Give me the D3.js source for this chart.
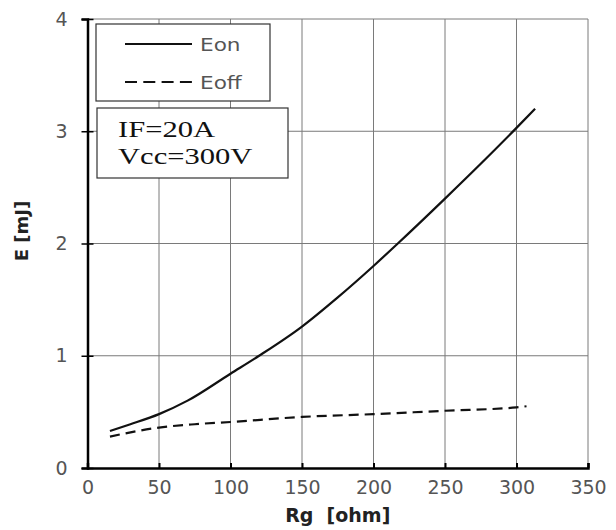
<!DOCTYPE html>
<html>
<head>
<meta charset="utf-8">
<script src="https://cdn.jsdelivr.net/npm/d3@7"></script>
<style>
    body { margin: 0; background: #fff; }
    .tick text { font-family: "DejaVu Sans", sans-serif; font-size: 19px; fill: #555; }
</style>
</head>
<body>
<div id="chart"></div>
<script>
// Rg [ohm] sample points
let rgOn = [15.7, 30, 50, 70, 100, 120, 150, 175, 200, 217, 250, 275, 300, 313];
let eOn = [0.33, 0.39, 0.48, 0.60, 0.84, 1.00, 1.26, 1.52, 1.80, 2.00, 2.40, 2.71, 3.03, 3.20];

let rgOff = [15.7, 50, 75, 100, 150, 200, 250, 300, 307];
let eOff = [0.28, 0.36, 0.39, 0.41, 0.455, 0.48, 0.51, 0.54, 0.55];

let xTicks = [0, 50, 100, 150, 200, 250, 300, 350];
let yTicks = [0, 1, 2, 3, 4];

let legendNames = ["Eon", "Eoff"];
let conditionText = ["IF=20A", "Vcc=300V"];

let margin = { top: 19, right: 28, bottom: 62, left: 87.5 };
let width = 616 - margin.left - margin.right,
    height = 530 - margin.top - margin.bottom;

let svg = d3.select("#chart").append("svg")
    .attr("width", 616)
    .attr("height", 530)
    .append("g")
    .attr("transform", "translate(" + margin.left + "," + margin.top + ")");

let x = d3.scaleLinear().domain([0, 350]).range([0, width]);
let y = d3.scaleLinear().domain([0, 4]).range([height, 0]);

// grid
svg.append("g").selectAll("line")
    .data(xTicks.slice(1))
    .enter().append("line")
    .attr("x1", x).attr("x2", x)
    .attr("y1", 0).attr("y2", height)
    .attr("stroke", "#7a7a7a").attr("stroke-width", 1);

svg.append("g").selectAll("line")
    .data(yTicks.slice(1))
    .enter().append("line")
    .attr("x1", 0).attr("x2", width)
    .attr("y1", y).attr("y2", y)
    .attr("stroke", "#7a7a7a").attr("stroke-width", 1);

// axes
let xAxis = svg.append("g")
    .attr("transform", "translate(0," + height + ")")
    .call(d3.axisBottom(x).tickValues(xTicks).tickFormat(d3.format("d")).tickSize(-5).tickPadding(13));
xAxis.select(".domain").attr("stroke", "#000").attr("stroke-width", 2.5);
xAxis.selectAll(".tick line").attr("stroke", "#000").attr("stroke-width", 2);

let yAxis = svg.append("g")
    .call(d3.axisLeft(y).tickValues(yTicks).tickFormat(d3.format("d")).tickSize(6));
yAxis.select(".domain").attr("stroke", "#000").attr("stroke-width", 2.5);
yAxis.selectAll(".tick line").attr("stroke", "#000").attr("stroke-width", 1.5)
    .attr("x2", 6).attr("x1", -6);
yAxis.selectAll(".tick text").attr("x", -20);

// axis titles
svg.append("text")
    .attr("x", width / 2)
    .attr("y", height + 54)
    .attr("text-anchor", "middle")
    .style("font-family", "'DejaVu Sans', sans-serif")
    .style("font-weight", "bold")
    .style("font-size", "19px")
    .attr("fill", "#222")
    .attr("xml:space", "preserve")
    .text("Rg  [ohm]");

svg.append("text")
    .attr("transform", "translate(-60," + (231 - margin.top) + ")rotate(-90)")
    .attr("text-anchor", "middle")
    .style("font-family", "'DejaVu Sans', sans-serif")
    .style("font-weight", "bold")
    .style("font-size", "18px")
    .attr("fill", "#222")
    .text("E [mJ]");

// curves
let onData = rgOn.map(function(d, i) { return [d, eOn[i]] });
let offData = rgOff.map(function(d, i) { return [d, eOff[i]] });

let line = d3.line()
    .x(function(d) { return x(d[0]) })
    .y(function(d) { return y(d[1]) })
    .curve(d3.curveMonotoneX);

svg.append("path")
    .attr("fill", "none")
    .attr("stroke", "#111")
    .attr("stroke-width", 2.2)
    .attr("d", line(onData));

svg.append("path")
    .attr("fill", "none")
    .attr("stroke", "#111")
    .attr("stroke-width", 2.2)
    .attr("stroke-dasharray", "10 6")
    .attr("d", line(offData));

// legend box
let lg = svg.append("g").attr("transform", "translate(" + (96 - margin.left) + "," + (24 - margin.top) + ")");
lg.append("rect")
    .attr("width", 174).attr("height", 77)
    .attr("fill", "#fff").attr("stroke", "#333").attr("stroke-width", 1.2);

lg.selectAll(".lgline")
    .data(legendNames)
    .enter().append("line")
    .attr("x1", 29).attr("x2", 96)
    .attr("y1", function(d, i) { return 20 + i * 38 })
    .attr("y2", function(d, i) { return 20 + i * 38 })
    .attr("stroke", "#111").attr("stroke-width", 1.8)
    .attr("stroke-dasharray", function(d, i) { return i === 1 ? "12 6.3" : null });

// the picture is stretched sideways, so the text is too
lg.selectAll(".lgtext")
    .data(legendNames)
    .enter().append("text")
    .attr("transform", function(d, i) { return "translate(104," + (27 + i * 38) + ")scale(1.2,1)" })
    .style("font-family", "'DejaVu Sans', sans-serif")
    .style("font-size", "18px")
    .attr("fill", "#555")
    .text(function(d) { return d });

// condition box
let cb = svg.append("g").attr("transform", "translate(" + (97 - margin.left) + "," + (108 - margin.top) + ")");
cb.append("rect")
    .attr("width", 191).attr("height", 70)
    .attr("fill", "#fff").attr("stroke", "#333").attr("stroke-width", 1.2);

cb.selectAll("text")
    .data(conditionText)
    .enter().append("text")
    .attr("transform", function(d, i) { return "translate(21," + (29 + i * 27) + ")scale(1.36,1)" })
    .style("font-family", "'Liberation Serif', serif")
    .style("font-size", "22.5px")
    .attr("fill", "#111")
    .text(function(d) { return d });
</script>
</body>
</html>
